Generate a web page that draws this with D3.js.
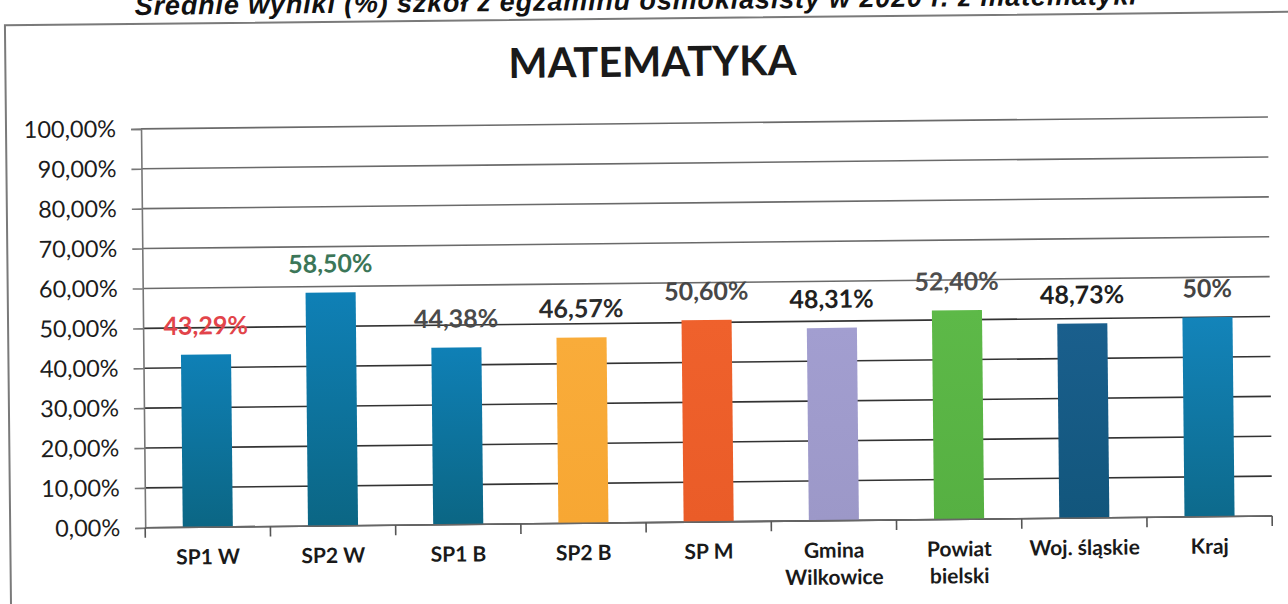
<!DOCTYPE html>
<html>
<head>
<meta charset="utf-8">
<script src="https://cdn.jsdelivr.net/npm/d3@7"></script>
<style>
  body { margin: 0; background: #fff; overflow: hidden; }
  text { font-family: Lato, "Open Sans", sans-serif; }
</style>
</head>
<body>
<div id="chart"></div>
<script>
'use strict';
// chart data
var categories = ['SP1 W', 'SP2 W', 'SP1 B', 'SP2 B', 'SP M', 'Gmina Wilkowice', 'Powiat bielski', 'Woj. śląskie', 'Kraj'];
var values = [43.29, 58.50, 44.38, 46.57, 50.60, 48.31, 52.40, 48.73, 50];
var valueLabels = ['43,29%', '58,50%', '44,38%', '46,57%', '50,60%', '48,31%', '52,40%', '48,73%', '50%'];
var yTicks = [0, 10, 20, 30, 40, 50, 60, 70, 80, 90, 100];

// styling per bar
var barColors = [
  ['#0f80b6', '#0b6684'], ['#0f80b6', '#0b6684'], ['#0f80b6', '#0b6684'],
  ['#f9ac3a', '#f7a733'], ['#ef612c', '#ea5c28'], ['#a29ed0', '#9c98c8'],
  ['#5db948', '#56b042'], ['#1a5f8d', '#12567c'], ['#1384ba', '#0d6a8c']
];
var labelColors = ['#e2444a', '#3b7658', '#4a4a4a', '#2b2b2b', '#474747', '#1f1f1f', '#4d4d4d', '#1f1f1f', '#444'];

var W = 1288, H = 604;
var margin = {top: 128, right: 18, bottom: 77, left: 143};
var width = W - margin.left - margin.right,
    height = H - margin.top - margin.bottom;

var svg = d3.select('#chart').append('svg')
    .attr('width', W)
    .attr('height', H);

// scanned page is tilted a little
var page = svg.append('g')
    .attr('transform', 'translate(0,-5) rotate(-0.6, 700, 320)');

// cut-off heading above the frame
page.append('text')
    .attr('x', 138)
    .attr('y', 14)
    .attr('textLength', 1002)
    .style('font-family', '"Liberation Sans", Arial, sans-serif')
    .style('font-weight', 'bold')
    .style('font-style', 'italic')
    .style('font-size', '27px')
    .attr('fill', '#111')
    .text('Średnie wyniki (%) szkół z egzaminu ósmoklasisty w 2020 r. z matematyki');

// chart frame
page.append('path')
    .attr('d', 'M8,620 L8,23 L1320,23')
    .attr('fill', 'none')
    .attr('stroke', '#7a7a7a')
    .attr('stroke-width', 2);

// title
page.append('text')
    .attr('x', 655)
    .attr('y', 81)
    .attr('text-anchor', 'middle')
    .style('font-weight', 'bold')
    .style('font-size', '41.5px')
    .attr('fill', '#1a1a1a')
    .text('MATEMATYKA');

var g = page.append('g')
    .attr('transform', 'translate(' + margin.left + ',' + margin.top + ')');

var x = d3.scaleBand()
    .domain(categories)
    .range([0, width])
    .paddingInner(0.6)
    .paddingOuter(0.3);

var y = d3.scaleLinear()
    .domain([0, 100])
    .range([height, 0]);

var defs = svg.append('defs');
barColors.forEach(function(c, i) {
  var grad = defs.append('linearGradient')
      .attr('id', 'grad' + i)
      .attr('x1', 0).attr('y1', 0).attr('x2', 0).attr('y2', 1);
  grad.append('stop').attr('offset', '0%').attr('stop-color', c[0]);
  grad.append('stop').attr('offset', '100%').attr('stop-color', c[1]);
});

// gridlines
g.selectAll('.grid')
    .data(yTicks)
  .enter().append('line')
    .attr('class', 'grid')
    .attr('x1', 0)
    .attr('x2', width)
    .attr('y1', function(d) { return y(d); })
    .attr('y2', function(d) { return y(d); })
    .attr('stroke', function(d) { return d >= 60 ? '#6a6a6a' : '#333'; })
    .attr('stroke-width', 1.6);

// y axis
var yAxis = g.append('g')
    .call(d3.axisLeft(y)
      .tickValues(yTicks)
      .tickSize(10)
      .tickPadding(15)
      .tickFormat(function(d) { return d + ',00%'; }));
yAxis.select('.domain').attr('stroke', '#777').attr('stroke-width', 1.6);
yAxis.selectAll('.tick line').attr('stroke', '#777').attr('stroke-width', 1.6);
yAxis.selectAll('.tick text')
    .style('font-size', '23.5px')
    .style('font-family', 'Lato, sans-serif')
    .attr('fill', '#1c1c1c');

// bars
g.selectAll('.bar')
    .data(values)
  .enter().append('rect')
    .attr('class', 'bar')
    .attr('x', function(d, i) { return x(categories[i]); })
    .attr('width', x.bandwidth())
    .attr('y', function(d) { return y(d); })
    .attr('height', function(d) { return height - y(d); })
    .attr('fill', function(d, i) { return 'url(#grad' + i + ')'; });

// x axis with ticks between categories
var step = x.step();
g.append('line')
    .attr('x1', 0).attr('x2', width)
    .attr('y1', height).attr('y2', height)
    .attr('stroke', '#666')
    .attr('stroke-width', 1.6);
g.selectAll('.xtick')
    .data(d3.range(categories.length + 1))
  .enter().append('line')
    .attr('class', 'xtick')
    .attr('x1', function(d) { return d * step; })
    .attr('x2', function(d) { return d * step; })
    .attr('y1', height)
    .attr('y2', height + 10)
    .attr('stroke', '#555')
    .attr('stroke-width', 1.6);

// category labels, wrapped on space for two-word names
var catText = g.selectAll('.cat')
    .data(categories)
  .enter().append('text')
    .attr('class', 'cat')
    .attr('x', function(d) { return x(d) + x.bandwidth() / 2; })
    .attr('y', height + 37)
    .attr('text-anchor', 'middle')
    .style('font-weight', 'bold')
    .style('font-size', '21px')
    .attr('fill', '#1a1a1a');
catText.each(function(d) {
  var lines = (d === 'Gmina Wilkowice' || d === 'Powiat bielski') ? d.split(' ') : [d];
  var t = d3.select(this);
  lines.forEach(function(l, k) {
    t.append('tspan')
      .attr('x', t.attr('x'))
      .attr('dy', k === 0 ? 0 : 27)
      .text(l);
  });
});

// value labels
g.selectAll('.val')
    .data(values)
  .enter().append('text')
    .attr('class', 'val')
    .attr('x', function(d, i) { return x(categories[i]) + x.bandwidth() / 2; })
    .attr('y', function(d) { return y(d) - 20; })
    .attr('text-anchor', 'middle')
    .style('font-weight', 'bold')
    .style('font-size', '25px')
    .attr('fill', function(d, i) { return labelColors[i]; })
    .text(function(d, i) { return valueLabels[i]; });
</script>
</body>
</html>
